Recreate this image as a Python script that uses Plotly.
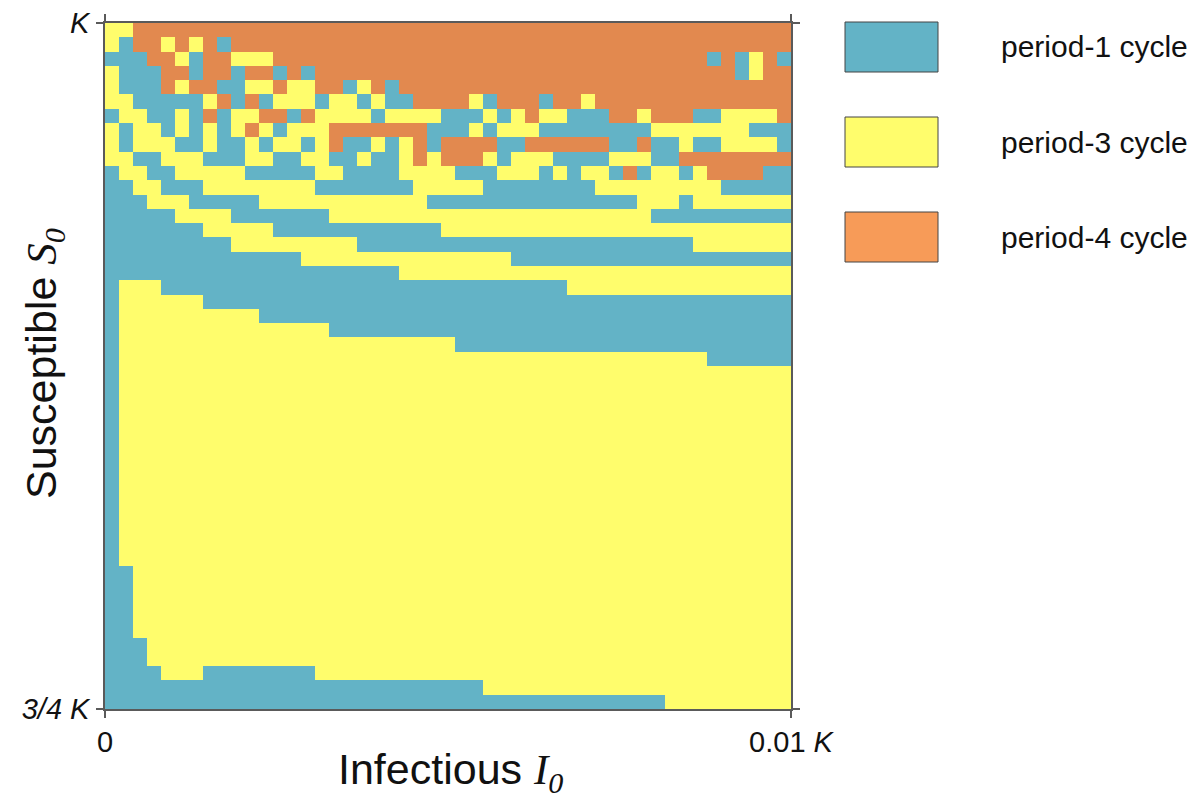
import plotly.graph_objects as go

# Period of the attractor for each (I0, S0) initial condition.
# Rows run from S0 = K (top) down to S0 = 3/4 K (bottom); columns run I0 = 0 .. 0.01 K.
# B = period-1 cycle, Y = period-3 cycle, O = period-4 cycle
grid_rows = [
    "YYOOOOOOOOOOOOOOOOOOOOOOOOOOOOOOOOOOOOOOOOOOOOOOO",
    "YBOOYOYOBOOOOOOOOOOOOOOOOOOOOOOOOOOOOOOOOOOOOOOOO",
    "BBBOOYBOOYYYOOOOOOOOOOOOOOOOOOOOOOOOOOOOOOOBOBYOB",
    "YBBBOOBOOBOOBOBOOOOOOOOOOOOOOOOOOOOOOOOOOOOOOBYOO",
    "YBBBOYOOBBYYOYYOOBYOBOOOOOOOOOOOOOOOOOOOOOOOOOOOO",
    "YYBBBBBYOBOBYYYBYYBYBBOOOOYBOOOBOOYOOOOOOOOOOOOOO",
    "BYYBBYBOBYYOOBOYYYYBYYYYBBBYBYOYYBBBOOYOOOBBYYYYO",
    "YBYYBYBYBYOYBYYYOOOOOOOBBBYBYYYBBBBBBBBYYYYYYYBBB",
    "YBYYYBBYBBYBYYBYOBBYBYOBOOOOBBOOOOOOBBOBBYBBYYYYB",
    "YYBBYYYBBBYYBBYYBBYBBYOYOOOYBYYYBBBBYYYBBOOOOOOOO",
    "BYYBBYYYYYBBBBBYYBBBBYYYYBBBYYYBYBYYBOBYYBYOOOOBB",
    "BBYYBBBYYYYYYYYBBBBBBBYYYYYBBBBBBBBYYYYYYYYYBBBBB",
    "BBBYYYBBBBBYYYYYYYYYYYYBBBBBBBBBBBBBBBYYYBYYYYYYY",
    "BBBBBYYYYBBBBBBBYYYYYYYYYYYYYYYYYYYYYYYBBBBBBBBBB",
    "BBBBBBBYYYYYBBBBBBBBBBBBYYYYYYYYYYYYYYYYYYYYYYYYY",
    "BBBBBBBBBYYYYYYYYYBBBBBBBBBBBBBBBBBBBBBBBBYYYYYYY",
    "BBBBBBBBBBBBBBYYYYYYYYYYYYYYYBBBBBBBBBBBBBBBBBBBB",
    "BBBBBBBBBBBBBBBBBBBBBYYYYYYYYYYYYYYYYYYYYYYYYYYYY",
    "BYYYBBBBBBBBBBBBBBBBBBBBBBBBBBBBBYYYYYYYYYYYYYYYY",
    "BYYYYYYBBBBBBBBBBBBBBBBBBBBBBBBBBBBBBBBBBBBBBBBBB",
    "BYYYYYYYYYYBBBBBBBBBBBBBBBBBBBBBBBBBBBBBBBBBBBBBB",
    "BYYYYYYYYYYYYYYYBBBBBBBBBBBBBBBBBBBBBBBBBBBBBBBBB",
    "BYYYYYYYYYYYYYYYYYYYYYYYYBBBBBBBBBBBBBBBBBBBBBBBB",
    "BYYYYYYYYYYYYYYYYYYYYYYYYYYYYYYYYYYYYYYYYYYBBBBBB",
    "BYYYYYYYYYYYYYYYYYYYYYYYYYYYYYYYYYYYYYYYYYYYYYYYY",
    "BYYYYYYYYYYYYYYYYYYYYYYYYYYYYYYYYYYYYYYYYYYYYYYYY",
    "BYYYYYYYYYYYYYYYYYYYYYYYYYYYYYYYYYYYYYYYYYYYYYYYY",
    "BYYYYYYYYYYYYYYYYYYYYYYYYYYYYYYYYYYYYYYYYYYYYYYYY",
    "BYYYYYYYYYYYYYYYYYYYYYYYYYYYYYYYYYYYYYYYYYYYYYYYY",
    "BYYYYYYYYYYYYYYYYYYYYYYYYYYYYYYYYYYYYYYYYYYYYYYYY",
    "BYYYYYYYYYYYYYYYYYYYYYYYYYYYYYYYYYYYYYYYYYYYYYYYY",
    "BYYYYYYYYYYYYYYYYYYYYYYYYYYYYYYYYYYYYYYYYYYYYYYYY",
    "BYYYYYYYYYYYYYYYYYYYYYYYYYYYYYYYYYYYYYYYYYYYYYYYY",
    "BYYYYYYYYYYYYYYYYYYYYYYYYYYYYYYYYYYYYYYYYYYYYYYYY",
    "BYYYYYYYYYYYYYYYYYYYYYYYYYYYYYYYYYYYYYYYYYYYYYYYY",
    "BYYYYYYYYYYYYYYYYYYYYYYYYYYYYYYYYYYYYYYYYYYYYYYYY",
    "BYYYYYYYYYYYYYYYYYYYYYYYYYYYYYYYYYYYYYYYYYYYYYYYY",
    "BYYYYYYYYYYYYYYYYYYYYYYYYYYYYYYYYYYYYYYYYYYYYYYYY",
    "BBYYYYYYYYYYYYYYYYYYYYYYYYYYYYYYYYYYYYYYYYYYYYYYY",
    "BBYYYYYYYYYYYYYYYYYYYYYYYYYYYYYYYYYYYYYYYYYYYYYYY",
    "BBYYYYYYYYYYYYYYYYYYYYYYYYYYYYYYYYYYYYYYYYYYYYYYY",
    "BBYYYYYYYYYYYYYYYYYYYYYYYYYYYYYYYYYYYYYYYYYYYYYYY",
    "BBYYYYYYYYYYYYYYYYYYYYYYYYYYYYYYYYYYYYYYYYYYYYYYY",
    "BBBYYYYYYYYYYYYYYYYYYYYYYYYYYYYYYYYYYYYYYYYYYYYYY",
    "BBBYYYYYYYYYYYYYYYYYYYYYYYYYYYYYYYYYYYYYYYYYYYYYY",
    "BBBBYYYBBBBBBBBYYYYYYYYYYYYYYYYYYYYYYYYYYYYYYYYYY",
    "BBBBBBBBBBBBBBBBBBBBBBBBBBBYYYYYYYYYYYYYYYYYYYYYY",
    "BBBBBBBBBBBBBBBBBBBBBBBBBBBBBBBBBBBBBBBBYYYYYYYYY",
]

period_of = {"B": 1, "Y": 3, "O": 4}
legend_labels = ["period-1 cycle", "period-3 cycle", "period-4 cycle"]

x_tick_labels = ["0", "0.01 <i>K</i>"]
y_tick_labels = ["<i>3/4 K</i>", "<i>K</i>"]

# colours
c_blue = "#63b3c6"
c_yellow = "#fffd6c"
c_orange = "#e2894f"
legend_colors = ["#63b3c6", "#fffd6c", "#f79b58"]

# build z (bottom row first)
n_rows = len(grid_rows)
n_cols = len(grid_rows[0])
z = [[period_of[ch] for ch in row] for row in reversed(grid_rows)]
xs = list(range(n_cols))
ys = list(range(n_rows))

fig = go.Figure()
fig.add_trace(go.Heatmap(
    x=xs, y=ys, z=z,
    zmin=1, zmax=4,
    colorscale=[[0, c_blue], [0.5, c_blue], [0.5, c_yellow],
                [0.8, c_yellow], [0.8, c_orange], [1, c_orange]],
    showscale=False, hoverinfo="z", xgap=0, ygap=0,
))

W, H = 1204, 804
L, R, T, B = 105, 1204 - 791, 23, 804 - 709
pw, ph = W - L - R, H - T - B


def px(xp):
    return (xp - L) / pw


def py(yp):
    return (H - B - yp) / ph


FONT = "Liberation Sans, Arial, Helvetica, sans-serif"
SERIF = "Liberation Serif, Times New Roman, serif"

axis_common = dict(
    showline=True, linecolor="#5a5a5a", linewidth=1.5, mirror="ticks",
    ticks="outside", ticklen=7, tickcolor="#5a5a5a", tickwidth=1.5,
    showgrid=False, zeroline=False, automargin=False,
    tickfont=dict(family=FONT, size=29, color="#111"),
)

fig.update_xaxes(range=[-0.5, n_cols - 0.5], tickvals=[-0.5, n_cols - 0.5],
                 ticktext=x_tick_labels, ticklabelstandoff=-1, **axis_common)
fig.update_yaxes(range=[-0.5, n_rows - 0.5], tickvals=[-0.5, n_rows - 0.5],
                 ticktext=y_tick_labels, ticklabelstandoff=1, **axis_common)

shapes = []
annotations = []
box_tops = [22, 117, 212]
for lab, col, top in zip(legend_labels, legend_colors, box_tops):
    shapes.append(dict(type="rect", xref="paper", yref="paper",
                       x0=px(845), x1=px(938), y0=py(top + 50), y1=py(top),
                       fillcolor=col, line=dict(color="#444", width=1)))
    annotations.append(dict(xref="paper", yref="paper", x=px(999), y=py(top + 25),
                            text=lab, showarrow=False, xanchor="left", yanchor="middle",
                            font=dict(family=FONT, size=30, color="#111")))

annotations.append(dict(xref="paper", yref="paper", x=px(44), y=py(364),
                        text="Susceptible <span style='font-family:" + SERIF + "'><i>S</i><sub><i>0</i></sub></span>",
                        textangle=-90, showarrow=False, xanchor="center", yanchor="middle",
                        font=dict(family=FONT, size=43, color="#111")))
annotations.append(dict(xref="paper", yref="paper", x=px(450), y=py(772),
                        text="Infectious <span style='font-family:" + SERIF + "'><i>I</i><sub><i>0</i></sub></span>",
                        showarrow=False, xanchor="center", yanchor="middle",
                        font=dict(family=FONT, size=43, color="#111")))

fig.update_layout(
    width=W, height=H,
    margin=dict(l=L, r=R, t=T, b=B, pad=0, autoexpand=False),
    paper_bgcolor="white", plot_bgcolor="white",
    shapes=shapes, annotations=annotations,
    showlegend=False,
)

fig.write_html("out.html")
